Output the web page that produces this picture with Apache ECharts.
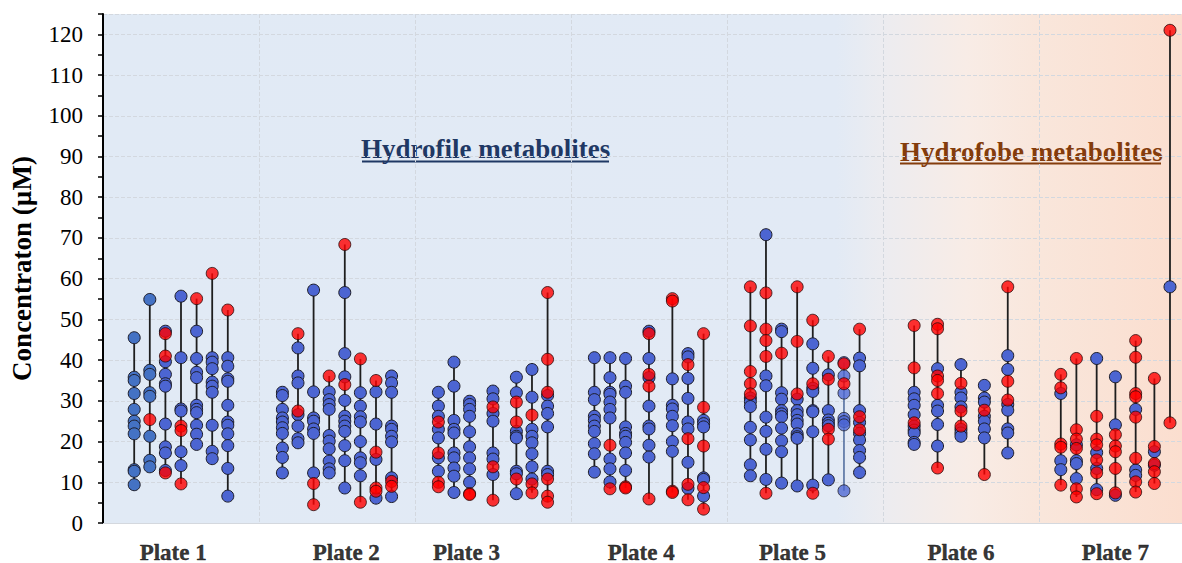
<!DOCTYPE html>
<html>
<head>
<meta charset="utf-8">
<script src="https://cdn.jsdelivr.net/npm/echarts@6/dist/echarts.min.js"></script>
<style>
html,body{margin:0;padding:0;background:#ffffff;}
#chart{width:1182px;height:563px;}
</style>
</head>
<body>
<div id="chart"></div>
<script>
// ---------------- DATA ----------------
const plates = ['Plate 1', 'Plate 2', 'Plate 3', 'Plate 4', 'Plate 5', 'Plate 6', 'Plate 7'];
const yAxisTitle = 'Concentraton (µM)';
const groupTitles = ['Hydrofile metabolites', 'Hydrofobe metabolites'];

// one inner array per vertical strip
const plate1Blue = [
  [45.5, 35.8, 35, 31.8, 27.9, 25, 23.8, 21.9, 13.1, 12.7, 9.4],
  [54.9, 37.5, 36.5, 32, 31.1, 21.3, 15.4, 13.8],
  [47.1, 39.6, 36.5, 34.2, 33.6, 24.3, 18.7, 17.2, 12.9],
  [55.7, 40.6, 28, 27.5, 17.5, 14.1],
  [47.1, 40.4, 37, 35.7, 28.9, 27.9, 27.1, 24, 21.8, 19.3],
  [40.6, 39.5, 37.9, 34.6, 33.6, 32.1, 24, 17.6, 15.8],
  [40.6, 38.5, 35.4, 34.8, 28.9, 24.8, 24, 21.9, 19, 13.4, 6.6]
];
const plate1Red = [
  [],
  [25.4],
  [46.5, 41, 12.3],
  [23.8, 22.7, 9.6],
  [55.1],
  [61.3],
  [52.3]
];

const plate2Blue = [
  [32.1, 31.3, 27.9, 25.8, 24.8, 23.4, 22, 18.4, 16.1, 12.3],
  [43, 36.1, 34.4, 26.6, 23.8, 20.7, 19.7],
  [57.2, 32.2, 25.8, 25, 23.1, 22, 12.3],
  [32.2, 30.3, 29.1, 27.9, 21.5, 20.1, 18.2, 15.2, 13.3, 12.3],
  [56.6, 41.6, 35.9, 30.1, 26.2, 25, 23.8, 22.5, 19, 15.3, 8.6],
  [32, 28.7, 26.1, 24.8, 20, 16, 14.8, 11.6],
  [32.2, 24.3, 15.6, 6.1],
  [36.1, 34.4, 32.1, 23.8, 23, 21.3, 19.9, 11.1, 6.5]
];
const plate2Red = [
  [],
  [46.5, 27.5],
  [9.7, 4.5],
  [36.1],
  [68.4, 34],
  [40.3, 5.1],
  [35, 17.4, 8.6, 7.8],
  [10.2, 9]
];

const plate3Blue = [
  [32.1, 28.7, 26.2, 23, 20.9, 16, 12.7],
  [39.5, 33.6, 25.2, 23, 22.1, 17.2, 16, 13.5, 11.5, 7.5],
  [29.9, 29.1, 27.9, 26.2, 22.4, 18.7, 16, 13.3, 10],
  [32.4, 30.5, 26.9, 25, 17.2, 15.7, 11.9],
  [35.8, 32, 22.5, 21.3, 20.9, 12.7, 12.1, 7.2],
  [37.7, 30.9, 23, 21.3, 19.7, 17, 13.8, 10.8],
  [31.3, 28.7, 26.9, 23.6, 12.7, 11.9]
];
const plate3Red = [
  [24.8, 17.2, 10, 8.9],
  [],
  [7.2, 7],
  [28.5, 13.8, 5.6],
  [29.7, 24.8, 10.8],
  [26.5, 9.6, 7.4],
  [56.6, 40.2, 32.1, 10.8, 6.6, 5.1]
];

const plate4Blue = [
  [40.6, 32.1, 30.3, 26.2, 25.2, 23.8, 22.5, 19.5, 17, 12.5],
  [40.6, 35.7, 32.1, 31.6, 29.7, 27.9, 25.8, 15.7, 13.3, 10.1],
  [40.4, 33.6, 32.1, 23.6, 22, 21.3, 19.8, 17.2, 12.9],
  [47.1, 40.4, 35.7, 28.7, 23.8, 23.1, 19.1, 16.2],
  [35.4, 28.9, 28, 26.2, 23.9, 20, 17.6],
  [41.6, 40.8, 35.5, 30.6, 24.8, 23.1, 14.9, 8.5],
  [25.2, 24.4, 23.6, 11.1, 10.7, 6.6]
];
const plate4Red = [
  [],
  [19.1, 8.4],
  [8.9, 8.6],
  [46.5, 36.5, 33.6, 5.9],
  [55.1, 54.5, 7.8, 7.5],
  [38.9, 20.7, 9.5, 5.7],
  [46.5, 28.4, 18.9, 8.7, 3.4]
];

const plate5Blue = [
  [30.7, 29.8, 28.6, 23.5, 20.4, 14.3, 11.6],
  [70.8, 36.1, 33.7, 26, 22.5, 18.1, 10.7],
  [47.6, 47, 32, 30.4, 27.6, 26.8, 26.1, 23.3, 20.2, 17.5, 9.8],
  [30.4, 27.6, 26.6, 25.2, 24.3, 21.9, 21.2, 20.8, 9.1],
  [44, 38, 33.1, 32.3, 27.6, 27.3, 22.4, 9.3],
  [36.4, 27.6, 25.3, 24.5, 23.9, 10.6],
  [39.4, 36.1, 31.9, 25.7, 24.9, 24.1, 7.9],
  [40.5, 38.6, 27.6, 24.7, 22, 20.4, 17.8, 16.1, 12.4]
];
const plate5Red = [
  [58, 48.4, 37.2, 34.2, 31.7],
  [56.5, 47.6, 44.8, 40.9, 7.3],
  [41.7],
  [58, 44.6, 31.7],
  [49.8, 34.2, 7.3],
  [40.9, 35.3, 23, 20.6],
  [39.1, 34.2],
  [47.6, 26.1, 22.9]
];

const plate6Blue = [
  [32.1, 30.5, 28.9, 26.6, 23.8, 22.8, 22.1, 19.8, 19.3],
  [37.9, 28.9, 27.5, 24.2, 18.9],
  [38.9, 32.1, 30.7, 28.5, 23, 22.1, 21.3],
  [33.8, 30.7, 29.7, 26.2, 25, 23.1, 20.9],
  [41.1, 37.7, 29.1, 27.7, 23.1, 22.1, 17.2]
];
const plate6Red = [
  [48.5, 38.1, 24.6],
  [48.8, 47.7, 36.1, 35, 31.8, 13.5],
  [34.3, 27.5, 23.8],
  [27.7, 11.9],
  [58, 34.8, 30.2]
];

const plate7Blue = [
  [31.8, 15.3, 13.1],
  [19.2, 15.3, 14.6, 10.9],
  [40.4, 17.3, 13.4, 8.2],
  [35.9, 24.1, 6.8],
  [27.9, 13, 11.7],
  [17.5, 14.2],
  [58]
];
const plate7Red = [
  [36.5, 33.2, 19.4, 18.6, 9.3],
  [40.4, 22.9, 20.6, 18.3, 8.4, 6.4],
  [26.2, 20.6, 19.2, 15.5, 12.3, 7.2],
  [21.7, 18.9, 17.5, 13.4, 7.4],
  [44.8, 40.7, 31.8, 31, 26, 15.9, 10.1, 7.6],
  [35.5, 18.8, 14.6, 12.6, 9.7],
  [121, 24.6]
];

// ---------------- LAYOUT (not data) ----------------
const stripOffsets = [
  [0.2, 0.3, 0.4, 0.5, 0.6, 0.7, 0.8],
  [0.15, 0.25, 0.35, 0.45, 0.55, 0.65, 0.75, 0.85],
  [0.15, 0.25, 0.35, 0.5, 0.65, 0.75, 0.85],
  [0.15, 0.25, 0.35, 0.5, 0.65, 0.75, 0.85],
  [0.15, 0.25, 0.35, 0.45, 0.55, 0.65, 0.75, 0.85],
  [0.2, 0.35, 0.5, 0.65, 0.8],
  [0.14, 0.24, 0.37, 0.49, 0.62, 0.74, 0.84]
];
const plateLabelOffsets = [0.45, 0.56, 0.33, 0.45, 0.42, 0.5, 0.49];
const xMax = 6.917;
const SERIF = '"Liberation Serif", "Times New Roman", serif';

const BLUE = '#4C65D2';
const STEEL = '#4472C4';
const RED = '#FF0000';
const stripStyle = { '0-0': 'steel', '0-1': 'steel', '4-6': 'faded' };

const blueData = [plate1Blue, plate2Blue, plate3Blue, plate4Blue, plate5Blue, plate6Blue, plate7Blue];
const redData = [plate1Red, plate2Red, plate3Red, plate4Red, plate5Red, plate6Red, plate7Red];

const lineSeries = [];
const bluePts = [];
const redPts = [];

plates.forEach((name, p) => {
  blueData[p].forEach((vals, s) => {
    const x = p + stripOffsets[p][s];
    const reds = redData[p][s];
    const all = vals.concat(reds);
    const lo = Math.min.apply(null, all);
    const hi = Math.max.apply(null, all);
    const st = stripStyle[p + '-' + s];
    const faded = st === 'faded';
    if (hi > lo) {
      lineSeries.push({
        type: 'line',
        data: [[x, lo], [x, hi]],
        symbol: 'none',
        silent: true,
        z: 2,
        lineStyle: { color: faded ? '#4d6a9c' : '#1e1e1e', width: 1.8, opacity: faded ? 0.85 : 1 }
      });
    }
    vals.forEach(v => {
      bluePts.push({
        value: [x, v],
        itemStyle: {
          color: st === 'steel' ? STEEL : BLUE,
          opacity: faded ? 0.78 : 1
        }
      });
    });
    reds.forEach(v => {
      redPts.push({ value: [x, v] });
    });
  });
});

const plateLabelData = plates.map((n, i) => ({ name: n, value: [i + plateLabelOffsets[i], 0] }));

const chart = echarts.init(document.getElementById('chart'), null, { renderer: 'svg' });

const option = {
  animation: false,
  grid: {
    left: 101, right: 0, top: 14, bottom: 40,
    show: true,
    borderWidth: 0,
    backgroundColor: new echarts.graphic.LinearGradient(0, 0, 1, 0, [
      { offset: 0, color: '#E1EAF5' },
      { offset: 0.68, color: '#E2EAF5' },
      { offset: 0.722, color: '#ECECF0' },
      { offset: 0.80, color: '#F8ECE6' },
      { offset: 0.87, color: '#F9E6DB' },
      { offset: 1, color: '#FBDECF' }
    ])
  },
  xAxis: {
    type: 'value',
    min: 0,
    max: xMax,
    interval: 1,
    axisLine: { show: true, lineStyle: { color: '#d4d8de', width: 1 } },
    axisTick: { show: false },
    axisLabel: { show: false },
    splitLine: { show: true, lineStyle: { color: '#d3d8df', type: 'dashed', width: 1 } }
  },
  yAxis: [
    {
      type: 'value',
      min: 0,
      max: 125,
      interval: 5,
      name: yAxisTitle,
      nameLocation: 'middle',
      nameGap: 68,
      nameTextStyle: { fontFamily: SERIF, fontWeight: 'bold', fontSize: 27, color: '#000' },
      axisLine: { show: true, lineStyle: { color: '#000', width: 2 } },
      axisTick: { show: true, inside: false, length: 5, lineStyle: { color: '#000', width: 1.5 } },
      axisLabel: {
        margin: 20,
        fontFamily: SERIF,
        fontSize: 23,
        color: '#000',
        formatter: v => (v % 10 === 0 && v <= 120) ? String(v) : ''
      },
      splitLine: { show: false }
    },
    {
      type: 'value',
      min: 0,
      max: 125,
      interval: 10,
      position: 'left',
      axisLine: { show: false },
      axisTick: { show: false },
      axisLabel: { show: false },
      splitLine: { show: true, lineStyle: { color: '#d3d8df', type: 'dashed', width: 1 } }
    }
  ],
  series: lineSeries.concat([
    {
      type: 'scatter',
      data: bluePts,
      symbolSize: 12,
      z: 3,
      itemStyle: { borderColor: '#1c1c28', borderWidth: 1 }
    },
    {
      type: 'scatter',
      data: redPts,
      symbolSize: 12,
      z: 4,
      itemStyle: { color: RED, borderColor: '#2a0a0a', borderWidth: 1 }
    },
    {
      type: 'scatter',
      data: plateLabelData,
      symbolSize: 1,
      clip: false,
      silent: true,
      z: 5,
      itemStyle: { color: 'rgba(0,0,0,0)' },
      label: {
        show: true,
        position: 'bottom',
        distance: 17,
        formatter: '{b}',
        fontFamily: SERIF,
        fontWeight: 'bold',
        fontSize: 23,
        color: '#000',
        textBorderColor: '#000',
        textBorderWidth: 0.4
      }
    }
  ]),
  graphic: [
    {
      type: 'text', left: 361, top: 135, silent: true,
      style: { text: groupTitles[0], font: 'bold 27px ' + SERIF, fill: '#1F3864' }
    },
    {
      type: 'rect', silent: true,
      shape: { x: 362, y: 160.5, width: 247, height: 2 },
      style: { fill: '#1F3864' }
    },
    {
      type: 'text', left: 900, top: 138, silent: true,
      style: { text: groupTitles[1], font: 'bold 27px ' + SERIF, fill: '#843C0C' }
    },
    {
      type: 'rect', silent: true,
      shape: { x: 900, y: 162.5, width: 261, height: 2 },
      style: { fill: '#843C0C' }
    }
  ]
};

chart.setOption(option);
</script>
</body>
</html>
